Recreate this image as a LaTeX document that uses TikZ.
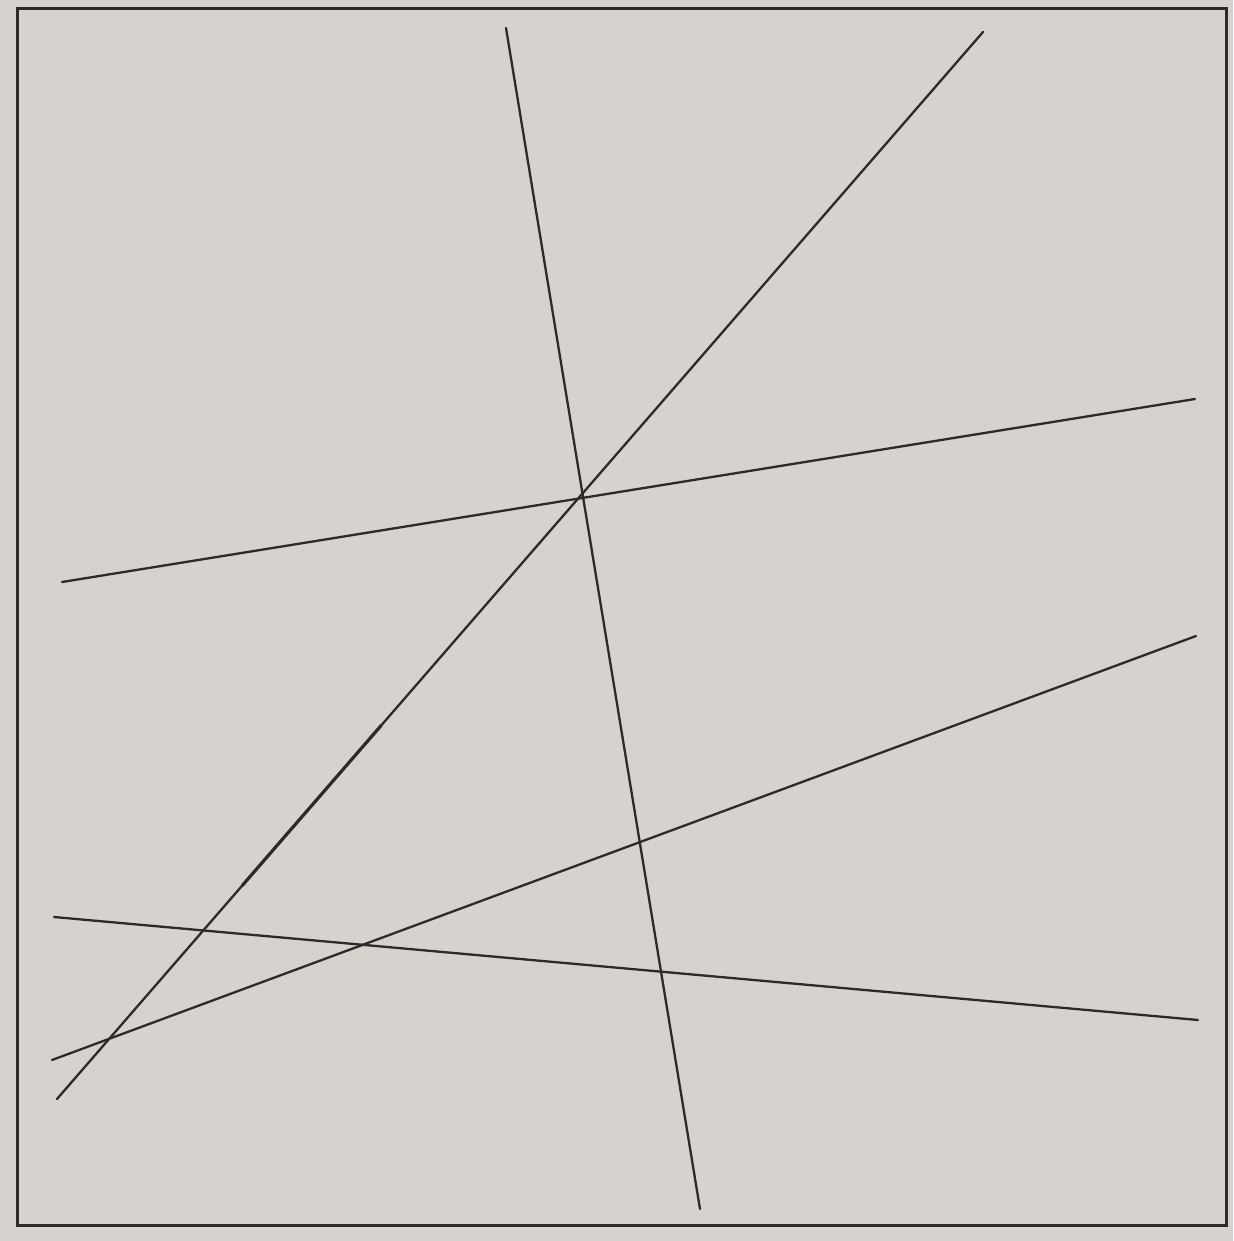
\documentclass[tikz,border=0pt]{standalone}
\usetikzlibrary{calc}
\definecolor{paper}{RGB}{214,211,206}
\definecolor{ink}{RGB}{45,43,41}
\begin{document}
\begin{tikzpicture}[x=1pt,y=-1pt,
  frameline/.style={draw=ink,line width=3pt},
  figline/.style={draw=ink,line width=2.3pt,line cap=round}]
\useasboundingbox (0,0) rectangle (1233,1241);
\fill[paper] (0,0) rectangle (1233,1241);
\draw[frameline] (17,9) rectangle (1226,1225);
% line 1 (steep)
\coordinate (a1) at (506,28);  \coordinate (b1) at (700,1209);
% line 2 (diagonal)
\coordinate (a2) at (983,32);  \coordinate (b2) at (57,1099);
% line 3 (upper shallow)
\coordinate (a3) at (62,582);  \coordinate (b3) at (1195,399);
% line 4 (lower rising)
\coordinate (a4) at (52,1060); \coordinate (b4) at (1196,636);
% line 5 (lower falling)
\coordinate (a5) at (54,917);  \coordinate (b5) at (1198,1020);
\draw[figline] (a1) -- (b1);
\draw[figline] (a2) -- (b2);
\draw[figline] (a3) -- (b3);
\draw[figline] (a4) -- (b4);
\draw[figline] (a5) -- (b5);
% slightly heavier stretch on the diagonal
\draw[figline,line width=3.2pt] ($(b2)!0.2!(a2)$) -- ($(b2)!0.35!(a2)$);
\end{tikzpicture}
\end{document}
